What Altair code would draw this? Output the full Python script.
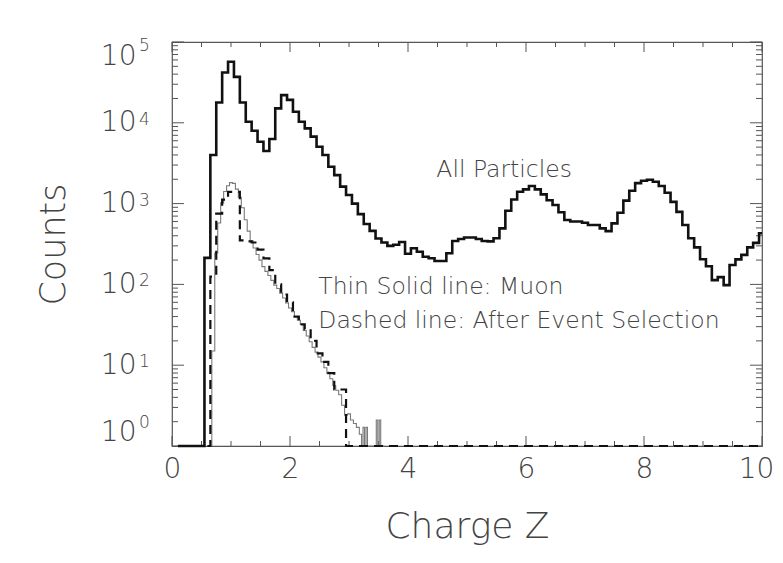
import altair as alt
import pandas as pd

# ---------------- data ----------------
# All particles: 0.1-wide bins, centres 0.1 .. 10.0
all_counts = [1, 1, 1, 1, 1,
              213, 4000, 17800, 42000, 57000, 37000, 17800, 10300, 7970, 5830,
              4470, 6300, 15100, 22000, 19200, 13700, 10300, 8520, 6750, 5050,
              3990, 2860, 2250, 1620, 1280, 1000, 740, 560, 460, 370,
              330, 300, 310, 335, 240, 280, 254, 220, 211, 195,
              195, 243, 345, 364, 381, 381, 364, 345, 341, 372,
              494, 815, 1126, 1400, 1500, 1650, 1500, 1300, 1100, 960,
              780, 628, 600, 600, 580, 543, 543, 494, 457, 570,
              770, 1090, 1440, 1790, 1920, 1970, 1860, 1650, 1360, 1050,
              790, 543, 372, 287, 205, 168, 113, 123, 98, 174,
              204, 232, 287, 327, 430]
all_z = [round(0.1 * (i + 1), 2) for i in range(len(all_counts))]

# Muon (thin solid grey line)
mu_z = [0.60, 0.65, 0.70, 0.75, 0.80, 0.85, 0.90, 0.95, 1.00, 1.05,
        1.10, 1.15, 1.20, 1.25, 1.30, 1.35, 1.40, 1.45, 1.50, 1.55,
        1.60, 1.65, 1.70, 1.75, 1.80, 1.85, 1.90, 1.95, 2.00, 2.05,
        2.10, 2.15, 2.20, 2.25, 2.30, 2.35, 2.40, 2.45, 2.50, 2.55,
        2.60, 2.65, 2.70, 2.75, 2.80, 2.85, 2.90, 2.95, 3.00, 3.05,
        3.10, 3.15, 3.20, 3.225, 3.25, 3.275, 3.30, 3.325, 3.35, 3.375,
        3.40, 3.425, 3.45, 3.475, 3.50, 3.525, 3.55, 3.575, 3.60]
mu_counts = [1, 1, 15, 245, 575, 1020, 1410, 1660, 1820, 1780,
             1510, 1200, 890, 630, 457, 347, 282, 234, 200, 166,
             145, 129, 112, 98, 89, 78, 68, 59, 51, 46,
             40, 36, 32, 27, 23, 19.5, 16.6, 14.5, 12.6, 11,
             9.3, 7.9, 6.8, 5.6, 4.9, 4.3, 3.2, 2.4, 2.5, 2.1,
             1.9, 1.7, 1.4, 1.0, 1.7, 1.0, 1.7, 1.0, 1.0, 1.0,
             1.0, 1.0, 1.0, 2.1, 1.0, 2.1, 1.0, 1.0, 1.0]

# After event selection (dashed line): 0.1-wide bins, centres 0.6 .. 10.0
sel_counts = [1, 125, 750, 1120, 1400, 1400, 350, 340, 330, 270,
              210, 150, 100, 75, 60, 40, 32, 28, 20, 14,
              11, 8, 5, 5] + [1] * 71
sel_z = [round(0.6 + 0.1 * i, 2) for i in range(len(sel_counts))]

# annotations
ann_text = ["All Particles", "Thin Solid line: Muon", "Dashed line: After Event Selection"]
ann_z = [4.48, 2.48, 2.48]
ann_c = [2630, 93, 35]

# axis ticks and labels
x_major = [0, 2, 4, 6, 8, 10]
x_minor = [0.5, 1, 1.5, 2.5, 3, 3.5, 4.5, 5, 5.5, 6.5, 7, 7.5, 8.5, 9, 9.5]
y_major = [1, 10, 100, 1000, 10000, 100000]
y_exp = ["0", "1", "2", "3", "4", "5"]
y_minor = [m * d for d in [1, 10, 100, 1000, 10000] for m in range(2, 10)]

# ---------------- chart ----------------
W, H = 590, 404
FONT = "DejaVu Sans"
TXT = "#444444"

x_scale = alt.Scale(domain=[0, 10], nice=False, zero=False)
y_scale = alt.Scale(type="log", domain=[1, 100000], nice=False)

x_axis = alt.Axis(values=x_major, ticks=False, domain=False, grid=False,
                  labelFont=FONT, labelFontSize=28, labelColor=TXT, labelFontWeight=200,
                  labelPadding=9, labelFlush=False,
                  labelOffset={"condition": {"test": "datum.value == 10", "value": -6}, "value": 0},
                  title="Charge Z", titleFont=FONT, titleFontSize=36, titleColor=TXT,
                  titleFontWeight=200, titlePadding=26)
y_axis = alt.Axis(values=y_major, ticks=False, domain=False, grid=False,
                  labelExpr="'10'",
                  labelFont=FONT, labelFontSize=28, labelColor=TXT, labelFontWeight=200,
                  labelPadding=36, labelFlush=True,
                  title="Counts", titleFont=FONT, titleFontSize=35, titleColor=TXT,
                  titleFontWeight=200, titlePadding=29)


def X(field):
    return alt.X(f"{field}:Q", scale=x_scale, axis=x_axis)


def Y(field):
    return alt.Y(f"{field}:Q", scale=y_scale, axis=y_axis)


df_all = pd.DataFrame({"z": all_z, "c": all_counts})
df_mu = pd.DataFrame({"z": mu_z, "c": mu_counts})
df_sel = pd.DataFrame({"z": sel_z, "c": sel_counts})
df_ann = pd.DataFrame({"z": ann_z, "c": ann_c, "t": ann_text})
df_exp = pd.DataFrame({"v": y_major, "e": y_exp})

line_all = alt.Chart(df_all).mark_line(interpolate="step", color="#111111", strokeWidth=2.6).encode(
    x=X("z"), y=Y("c"))
line_mu = alt.Chart(df_mu).mark_line(interpolate="step", color="#7a7a7a", strokeWidth=1.1).encode(
    x=X("z"), y=Y("c"))
line_sel = alt.Chart(df_sel).mark_line(interpolate="step", color="#111111", strokeWidth=2.2,
                                       strokeDash=[9, 6]).encode(x=X("z"), y=Y("c"))
ann = alt.Chart(df_ann).mark_text(align="left", baseline="middle", font=FONT, fontSize=23.5,
                                  fontWeight=200, color=TXT).encode(
    x=X("z"), y=Y("c"), text="t:N")

# exponents of the y tick labels (superscripts)
exp_kw = dict(align="left", baseline="alphabetic", font=FONT, fontSize=17, fontWeight=200, color=TXT)
exp_top = alt.Chart(df_exp).transform_filter("datum.v == 100000").mark_text(dy=9, **exp_kw).encode(
    y=Y("v"), x=alt.value(-33), text="e:N")
exp_mid = alt.Chart(df_exp).transform_filter("datum.v > 1 && datum.v < 100000").mark_text(dy=2, **exp_kw).encode(
    y=Y("v"), x=alt.value(-33), text="e:N")
exp_bot = alt.Chart(df_exp).transform_filter("datum.v == 1").mark_text(dy=-18, **exp_kw).encode(
    y=Y("v"), x=alt.value(-33), text="e:N")

TICK = "#555555"
ymaj = pd.DataFrame({"v": y_major})
ymin = pd.DataFrame({"v": y_minor})
xmaj = pd.DataFrame({"v": x_major})
xmin = pd.DataFrame({"v": x_minor})

ticks = [
    alt.Chart(ymaj).mark_rule(color=TICK, strokeWidth=1).encode(y=Y("v"), x=alt.value(0), x2=alt.value(12)),
    alt.Chart(ymin).mark_rule(color=TICK, strokeWidth=1).encode(y=Y("v"), x=alt.value(0), x2=alt.value(6)),
    alt.Chart(ymaj).mark_rule(color=TICK, strokeWidth=1).encode(y=Y("v"), x=alt.value(W), x2=alt.value(W - 12)),
    alt.Chart(ymin).mark_rule(color=TICK, strokeWidth=1).encode(y=Y("v"), x=alt.value(W), x2=alt.value(W - 6)),
    alt.Chart(xmaj).mark_rule(color=TICK, strokeWidth=1).encode(x=X("v"), y=alt.value(H), y2=alt.value(H - 10)),
    alt.Chart(xmin).mark_rule(color=TICK, strokeWidth=1).encode(x=X("v"), y=alt.value(H), y2=alt.value(H - 5)),
    alt.Chart(xmaj).mark_rule(color=TICK, strokeWidth=1).encode(x=X("v"), y=alt.value(0), y2=alt.value(10)),
    alt.Chart(xmin).mark_rule(color=TICK, strokeWidth=1).encode(x=X("v"), y=alt.value(0), y2=alt.value(5)),
]

chart = alt.layer(*ticks, line_mu, line_sel, line_all, ann, exp_top, exp_mid, exp_bot).properties(
    width=W, height=H,
    padding={"left": 164, "top": 34, "right": 13, "bottom": 109},
    autosize=alt.AutoSizeParams(type="none"),
    background="white",
).configure_view(stroke="#555555", strokeWidth=1.2)

chart.save("out.html", embed_options={"renderer": "svg", "actions": False})
